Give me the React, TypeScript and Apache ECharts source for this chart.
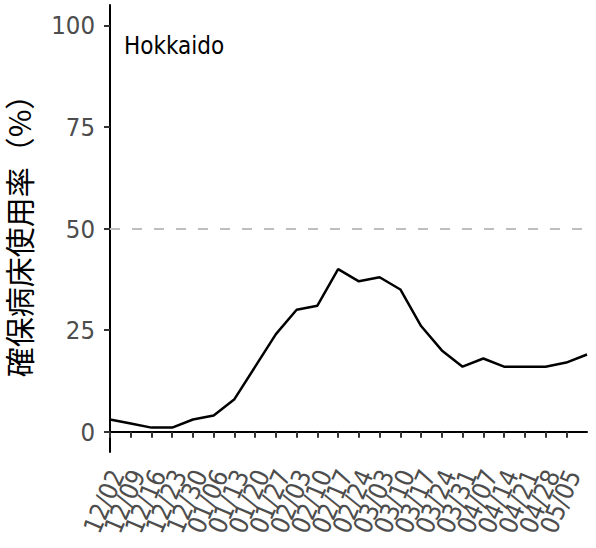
import React, { useEffect, useRef } from "react";
import * as echarts from "echarts";

const dates = [
  "12/02", "12/09", "12/16", "12/23", "12/30", "01/06", "01/13", "01/20",
  "01/27", "02/03", "02/10", "02/17", "02/24", "03/03", "03/10", "03/17",
  "03/24", "03/31", "04/07", "04/14", "04/21", "04/28", "05/05", "05/12",
];
const labeledCount = 23;
const usage = [3, 2, 1, 1, 3, 4, 8, 16, 24, 30, 31, 40, 37, 38, 35, 26, 20, 16, 18, 16, 16, 16, 17, 19];
const yTicks = [0, 25, 50, 75, 100];
const threshold = 50;
const region = "Hokkaido";
const yTitle = "確保病床使用率（%）";

const latin = "'DejaVu Sans Condensed', 'DejaVu Sans', sans-serif";

export default function App() {
  const ref = useRef<HTMLDivElement>(null);
  useEffect(() => {
    if (!ref.current) return;
    const chart = echarts.init(ref.current, undefined, { renderer: "svg" });
    chart.setOption({
      animation: false,
      grid: { left: 110, right: 9, top: 5, bottom: 96, containLabel: false, outerBoundsMode: "none" },
      xAxis: {
        type: "category",
        data: dates,
        boundaryGap: false,
        axisLine: { show: true, lineStyle: { color: "#000", width: 2 } },
        axisTick: {
          show: true,
          length: 6,
          lineStyle: { color: "#333", width: 2 },
          interval: (i: number) => i < labeledCount,
        },
        axisLabel: {
          rotate: 67,
          interval: 0,
          formatter: (v: string, i: number) => (i < labeledCount ? v : ""),
          showMinLabel: true,
          showMaxLabel: true,
          hideOverlap: false,
          color: "#4d4d4d",
          fontFamily: latin,
          fontSize: 25.5,
          lineHeight: 15,
          verticalAlign: "top",
          margin: 16,
        },
        splitLine: { show: false },
      },
      yAxis: {
        type: "value",
        min: -5,
        max: 105,
        name: yTitle,
        nameLocation: "middle",
        nameRotate: 90,
        nameGap: 77,
        nameMoveOverlap: false,
        nameTextStyle: {
          fontFamily: "'Noto Sans CJK JP', sans-serif",
          fontSize: 30,
          lineHeight: 30,
          color: "#000",
        },
        axisLine: { show: true, lineStyle: { color: "#000", width: 2 } },
        axisTick: { show: true, length: 6, lineStyle: { color: "#333", width: 2 }, customValues: yTicks },
        axisLabel: { color: "#4d4d4d", fontFamily: latin, fontSize: 25.5, margin: 15, customValues: yTicks },
        splitLine: { show: false },
      },
      graphic: [
        {
          type: "text",
          left: 124,
          top: 34,
          style: { text: region, fontFamily: latin, fontSize: 24, fill: "#000" },
        },
      ],
      series: [
        {
          type: "line",
          data: usage,
          symbol: "none",
          lineStyle: { color: "#000", width: 2.5 },
          markLine: {
            silent: true,
            symbol: "none",
            label: { show: false },
            lineStyle: { color: "#bebebe", width: 2, type: [10, 12] },
            data: [{ yAxis: threshold }],
          },
        },
      ],
    });
    return () => chart.dispose();
  }, []);
  return <div ref={ref} style={{ width: 596, height: 548, position: "absolute", left: 0, top: 0 }} />;
}
